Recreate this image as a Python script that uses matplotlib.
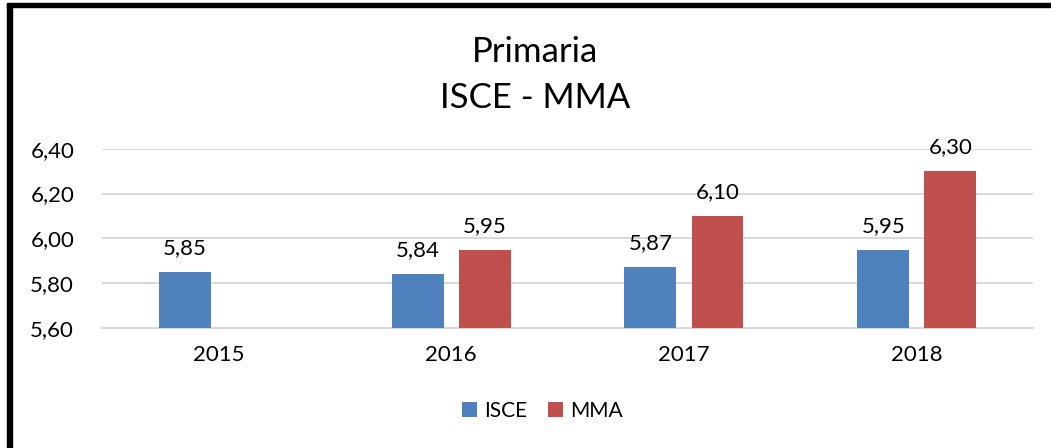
import matplotlib.pyplot as plt
import numpy as np
from matplotlib.patches import Rectangle

years = ['2015', '2016', '2017', '2018']
isce = [5.85, 5.84, 5.87, 5.95]
mma = [np.nan, 5.95, 6.10, 6.30]
yticks = [5.60, 5.80, 6.00, 6.20, 6.40]

plt.rcParams['font.family'] = ['Lato', 'DejaVu Sans']

blue = '#4F81BD'
red = '#C0504D'

fig = plt.figure(figsize=(10.51, 4.48), dpi=100)
ax = fig.add_axes([0.097, 0.268, 0.886, 0.4])

x = np.arange(len(years))
w = 0.223
off = 0.144
b1 = ax.bar(x - off, isce, w, color=blue, label='ISCE', zorder=3)
b2 = ax.bar(x + off, mma, w, color=red, label='MMA', zorder=3)

def fmt(v):
    return ('%.2f' % v).replace('.', ',')

for xs, vals in ((x - off, isce), (x + off, mma)):
    for xi, v in zip(xs, vals):
        if np.isnan(v):
            continue
        ax.annotate(fmt(v), (xi, v), xytext=(0, 10), textcoords='offset points',
                    ha='center', va='bottom', fontsize=16, color='black')

ax.set_ylim(5.6, 6.4)
ax.set_xlim(-0.5, 3.5)
ax.set_yticks(yticks)
ax.set_yticklabels([fmt(v) for v in yticks], fontsize=16)
ax.set_xticks(x)
ax.set_xticklabels(years, fontsize=16)
ax.tick_params(length=0, pad=12)
ax.tick_params(axis='y', pad=20)
ax.yaxis.grid(True, color='#D9D9D9', linewidth=1.5, zorder=0)
for s in ax.spines.values():
    s.set_visible(False)
ax.spines['bottom'].set_visible(True)
ax.spines['bottom'].set_color('#D9D9D9')
ax.spines['bottom'].set_linewidth(1.5)

fig.text(0.509, 0.885, 'Primaria', ha='center', va='center', fontsize=25)
fig.text(0.509, 0.781, 'ISCE - MMA', ha='center', va='center', fontsize=25)

fig.legend(handles=[b1, b2], loc='center', bbox_to_anchor=(0.516, 0.083), ncol=2,
           frameon=False, fontsize=15, handlelength=0.7, handleheight=0.7,
           handletextpad=0.35, columnspacing=1.0)

# outer frame (only left and top edges visible)
fig.add_artist(Rectangle((0.0067, 0.0), 0.0048, 0.992, transform=fig.transFigure,
                         color='black', zorder=10))
fig.add_artist(Rectangle((0.0067, 0.984), 0.9933, 0.009, transform=fig.transFigure,
                         color='black', zorder=10))

fig.savefig('out.png', dpi=100)
